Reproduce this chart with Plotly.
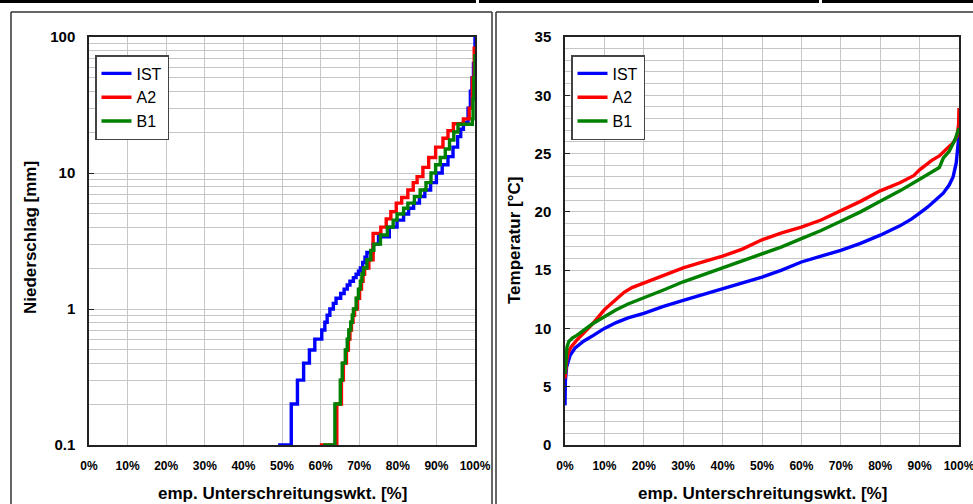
import plotly.graph_objects as go

W, H = 973, 504

# ---------------- Left chart: precipitation (empirical CDF, log scale) ----------------
ist_p_pct = [49.0, 52.4, 54.0, 55.6, 57.1, 58.5, 60.3, 61.1, 61.7, 62.4, 63.3, 64.0, 65.2, 66.1,
             66.9, 67.6, 68.5, 69.2, 69.8, 70.3, 70.9, 71.5, 72.0, 73.6, 75.0, 77.8, 79.8, 81.5,
             82.8, 84.1, 85.6, 87.0, 88.5, 90.0, 91.5, 93.0, 94.3, 95.5, 96.3, 97.0, 98.2, 98.8,
             99.2, 99.6, 100.0]
ist_p_mm = [0.1, 0.2, 0.3, 0.4, 0.5, 0.6, 0.7, 0.8, 0.9, 1.0, 1.1, 1.2, 1.3, 1.4,
            1.5, 1.6, 1.7, 1.8, 1.9, 2.0, 2.2, 2.4, 2.6, 3.0, 3.4, 4.0, 4.5, 5.0,
            5.5, 6.0, 6.7, 7.5, 8.5, 10.0, 11.5, 13.2, 15.5, 18.5, 21.0, 23.5, 30.0, 40.0,
            50.0, 64.0, 100.0]

a2_p_pct = [59.8, 64.2, 65.4, 65.9, 66.7, 67.2, 67.6, 68.0, 68.4, 68.8, 69.5, 70.1, 70.6, 71.0,
            71.4, 72.5, 73.6, 75.6, 77.0, 78.2, 79.6, 81.0, 82.6, 84.0, 85.0, 86.5, 88.0, 89.8,
            91.7, 93.0, 94.4, 97.0, 98.5, 99.3, 99.8]
a2_p_mm = [0.1, 0.2, 0.3, 0.4, 0.5, 0.6, 0.7, 0.8, 0.9, 1.0, 1.2, 1.4, 1.6, 1.8,
           2.0, 2.3, 3.6, 4.0, 4.6, 5.2, 6.0, 6.6, 7.5, 8.5, 9.4, 11.0, 13.0, 15.5,
           18.0, 20.5, 23.0, 25.0, 30.0, 50.0, 85.0]

b1_p_pct = [60.7, 63.7, 65.1, 65.6, 66.4, 66.9, 67.3, 67.8, 68.2, 68.5, 69.2, 69.8, 70.3, 70.7,
            71.1, 72.0, 73.0, 73.8, 75.5, 77.3, 78.8, 79.8, 81.5, 82.6, 84.3, 85.8, 87.3, 88.6,
            89.8, 91.0, 92.3, 93.4, 94.5, 95.6, 99.3, 99.5, 99.7, 100.0]
b1_p_mm = [0.1, 0.2, 0.3, 0.4, 0.5, 0.6, 0.7, 0.8, 0.9, 1.0, 1.2, 1.4, 1.6, 1.8,
           2.0, 2.3, 2.7, 3.0, 3.5, 4.0, 4.5, 5.0, 5.5, 6.0, 6.7, 7.5, 8.5, 10.0,
           11.5, 13.0, 15.0, 17.5, 20.0, 22.8, 25.0, 35.0, 50.0, 75.0]

# ---------------- Right chart: temperature (empirical CDF) ----------------
ist_t_pct = [0, 0.1, 0.4, 1.3, 2.5, 4.7, 7.2, 10, 13, 16, 20, 25, 30, 35, 40, 45, 50, 55, 60, 65,
             70, 75, 80, 85, 88, 90, 92, 94, 96, 97.5, 98.5, 99.3, 99.7, 100]
ist_t_c = [3.4, 5.5, 6.7, 7.7, 8.3, 8.9, 9.4, 10.0, 10.5, 10.9, 11.3, 11.9, 12.4, 12.9, 13.4, 13.9,
           14.4, 15.0, 15.7, 16.2, 16.7, 17.3, 18.0, 18.8, 19.4, 19.9, 20.4, 21.0, 21.6, 22.3,
           23.0, 24.2, 25.3, 26.6]

a2_t_pct = [0, 0.2, 0.4, 0.8, 1.5, 3, 5, 7, 10, 12, 15, 17, 20, 25, 30, 35, 40, 45, 50, 55, 60,
            65, 70, 75, 80, 85, 88.5, 90, 93, 95, 97.5, 98.5, 99.5, 99.9, 100]
a2_t_c = [5.7, 6.6, 7.2, 7.9, 8.4, 9.0, 9.7, 10.4, 11.6, 12.2, 13.1, 13.5, 13.9, 14.6, 15.2, 15.7,
          16.2, 16.8, 17.6, 18.2, 18.7, 19.3, 20.1, 20.9, 21.8, 22.5, 23.1, 23.6, 24.4, 24.8,
          25.6, 25.9, 26.5, 27.5, 28.9]

b1_t_pct = [0, 0.2, 0.5, 1.0, 2, 3, 5, 7, 10, 13, 16, 20, 25, 30, 35, 40, 45, 50, 55, 60, 65, 70,
            75, 80, 85, 90, 93, 95, 96, 97.5, 99, 100]
b1_t_c = [6.1, 7.6, 8.4, 8.9, 9.2, 9.4, 9.9, 10.4, 11.0, 11.6, 12.1, 12.6, 13.3, 14.0, 14.6, 15.2,
          15.8, 16.4, 17.0, 17.7, 18.4, 19.2, 20.0, 20.9, 21.8, 22.8, 23.4, 23.8, 24.6, 25.2,
          26.2, 27.2]

series_names = ["IST", "A2", "B1"]
series_colors = ["#0000FF", "#FF0000", "#008000"]

x_tick_vals = [0, 10, 20, 30, 40, 50, 60, 70, 80, 90, 100]
x_tick_text = [f"{v}%" for v in x_tick_vals]
log_tick_vals = [0.1, 1, 10, 100]
log_tick_text = ["0.1", "1", "10", "100"]
log_minor_vals = [m * d for d in (0.1, 1, 10) for m in range(2, 10)]
temp_tick_vals = [0, 5, 10, 15, 20, 25, 30, 35]

FONT = "Liberation Sans, Arial, sans-serif"
GRID = "#c6c6c6"
AX = "#222222"

def fx(px):
    return px / W

def fy(py):
    return 1 - py / H

fig = go.Figure()

left_data = [(ist_p_pct, ist_p_mm), (a2_p_pct, a2_p_mm), (b1_p_pct, b1_p_mm)]
right_data = [(ist_t_pct, ist_t_c), (a2_t_pct, a2_t_c), (b1_t_pct, b1_t_c)]

for name, color, (xs, ys) in zip(series_names, series_colors, left_data):
    fig.add_trace(go.Scatter(x=xs, y=ys, mode="lines", name=name,
                             line=dict(color=color, width=3.4, shape="hv"),
                             xaxis="x", yaxis="y", legend="legend"))
for name, color, (xs, ys) in zip(series_names, series_colors, right_data):
    fig.add_trace(go.Scatter(x=xs, y=ys, mode="lines", name=name,
                             line=dict(color=color, width=3.4),
                             xaxis="x2", yaxis="y2", legend="legend2"))

xcommon = dict(range=[0, 100], tickvals=x_tick_vals, ticktext=x_tick_text,
               showgrid=True, gridcolor=GRID, gridwidth=1, zeroline=False,
               showline=True, linecolor=AX, linewidth=1.5, mirror=True,
               ticks="", ticklabelstandoff=9, automargin=False,
               ticklabeloverflow="allow",
               tickfont=dict(family=FONT, size=12, color="black", weight="bold"))

legend_common = dict(xanchor="left", yanchor="top",
                     bgcolor="white", bordercolor="#444", borderwidth=1.5,
                     font=dict(family=FONT, size=16, color="black"),
                     itemwidth=30, tracegroupgap=0)

fig.update_layout(
    template="none",
    width=W, height=H,
    margin=dict(l=0, r=0, t=0, b=0),
    paper_bgcolor="white", plot_bgcolor="white",
    showlegend=True,
    xaxis=dict(domain=[fx(89), fx(475)], anchor="y", **xcommon),
    yaxis=dict(domain=[fy(445), fy(37)], anchor="x", type="log", range=[-1, 2],
               tickvals=log_tick_vals, ticktext=log_tick_text,
               showgrid=True, gridcolor=GRID, gridwidth=1, zeroline=False,
               showline=True, linecolor=AX, linewidth=1.5, mirror=True,
               ticks="inside", ticklen=5, tickcolor=AX, ticklabelstandoff=9,
               automargin=False,
               minor=dict(tickvals=log_minor_vals, showgrid=True, gridcolor=GRID, ticks=""),
               tickfont=dict(family=FONT, size=15, color="black", weight="bold")),
    xaxis2=dict(domain=[fx(565), fx(959)], anchor="y2", **xcommon),
    yaxis2=dict(domain=[fy(445), fy(37)], anchor="x2", range=[0, 35],
                tickvals=temp_tick_vals,
                showgrid=True, gridcolor=GRID, gridwidth=1, zeroline=False,
                showline=True, linecolor=AX, linewidth=1.5, mirror=True,
                ticks="inside", ticklen=5, tickcolor=AX, ticklabelstandoff=9,
                automargin=False,
                minor=dict(dtick=1, showgrid=True, gridcolor=GRID, ticks=""),
                tickfont=dict(family=FONT, size=15, color="black", weight="bold")),
    legend=dict(x=fx(95), y=fy(55), **legend_common),
    legend2=dict(x=fx(571), y=fy(55), **legend_common),
)

title_font = dict(family=FONT, size=17, color="black", weight="bold")
annotations = [
    dict(x=fx(282), y=fy(493), text="emp. Unterschreitungswkt. [%]", showarrow=False,
         xref="paper", yref="paper", xanchor="center", yanchor="middle", font=title_font),
    dict(x=fx(762), y=fy(493), text="emp. Unterschreitungswkt. [%]", showarrow=False,
         xref="paper", yref="paper", xanchor="center", yanchor="middle", font=title_font),
    dict(x=fx(30), y=fy(238), text="Niederschlag [mm]", showarrow=False, textangle=-90,
         xref="paper", yref="paper", xanchor="center", yanchor="middle", font=title_font),
    dict(x=fx(514), y=fy(241), text="Temperatur [°C]", showarrow=False, textangle=-90,
         xref="paper", yref="paper", xanchor="center", yanchor="middle", font=title_font),
]
fig.update_layout(annotations=annotations)

frame = dict(color="#333333", width=1.5)
shapes = [
    # top black bar with small gaps
    dict(type="rect", xref="paper", yref="paper", x0=fx(0), x1=fx(476), y0=fy(3), y1=fy(0),
         fillcolor="black", line=dict(width=0)),
    dict(type="rect", xref="paper", yref="paper", x0=fx(479), x1=fx(819), y0=fy(3), y1=fy(0),
         fillcolor="black", line=dict(width=0)),
    dict(type="rect", xref="paper", yref="paper", x0=fx(822), x1=fx(973), y0=fy(3), y1=fy(0),
         fillcolor="black", line=dict(width=0)),
    # left panel frame
    dict(type="line", xref="paper", yref="paper", x0=fx(11), x1=fx(11), y0=fy(504), y1=fy(12), line=frame),
    dict(type="line", xref="paper", yref="paper", x0=fx(11), x1=fx(492), y0=fy(12), y1=fy(12), line=frame),
    dict(type="line", xref="paper", yref="paper", x0=fx(492), x1=fx(492), y0=fy(504), y1=fy(12), line=frame),
    # right panel frame
    dict(type="line", xref="paper", yref="paper", x0=fx(496), x1=fx(496), y0=fy(504), y1=fy(12), line=frame),
    dict(type="line", xref="paper", yref="paper", x0=fx(496), x1=fx(973), y0=fy(12), y1=fy(12), line=frame),
]
fig.update_layout(shapes=shapes)

fig.write_html("out.html", config={"displayModeBar": False},
               post_script="document.body.style.margin='0px';document.body.style.overflow='hidden';")
